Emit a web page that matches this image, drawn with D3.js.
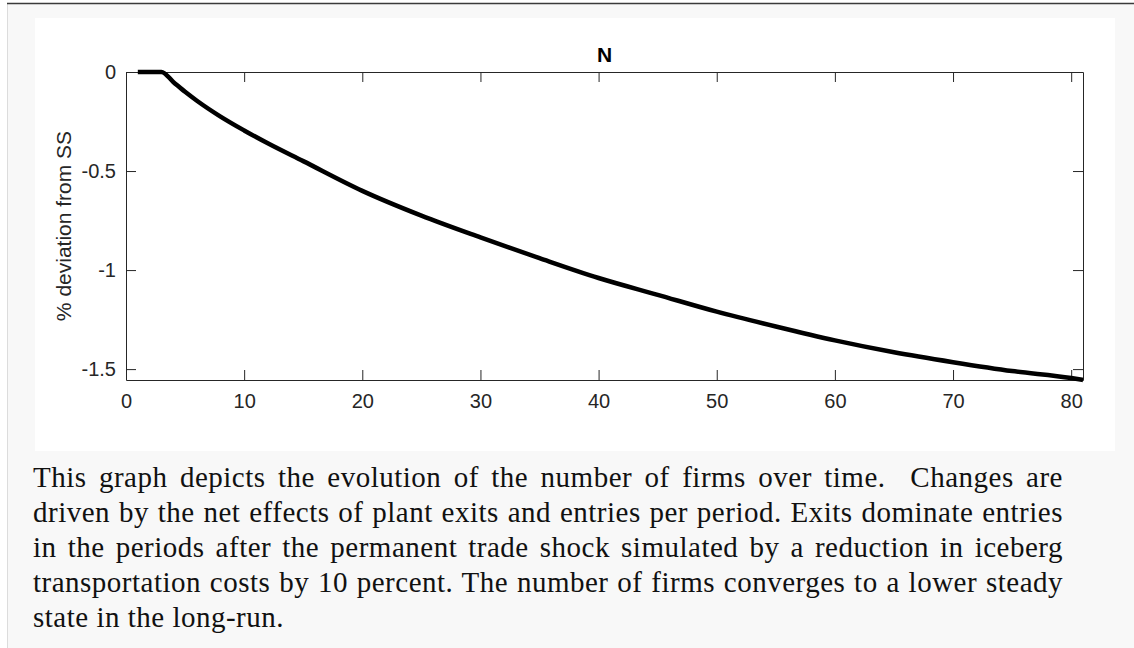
<!DOCTYPE html>
<html>
<head>
<meta charset="utf-8">
<script src="https://cdn.jsdelivr.net/npm/d3@7"></script>
<style>
  body { margin: 0; background: #fff; }
  svg { display: block; }
</style>
</head>
<body>
<div id="chart"></div>
<script>
(function(d3) {
    'use strict';

    // periods after the shock and % deviation of N from steady state
    var periods   = [1, 2, 3, 4, 5, 6, 8, 10, 12, 15, 20, 25, 30, 35, 40, 45, 50, 55, 60, 65, 70, 75, 80, 81];
    var deviation = [0, 0, 0, -0.05, -0.10, -0.145, -0.225, -0.295, -0.36, -0.45, -0.60, -0.725, -0.835, -0.94,
                     -1.04, -1.125, -1.21, -1.285, -1.355, -1.415, -1.465, -1.51, -1.545, -1.555];
    var xTicks = [0, 10, 20, 30, 40, 50, 60, 70, 80];
    var yTicks = [0, -0.5, -1, -1.5];
    var title = 'N';
    var yLabel = '% deviation from SS';
    var captionLines = [
        'This graph depicts the evolution of the number of firms over time.  Changes are',
        'driven by the net effects of plant exits and entries per period. Exits dominate entries',
        'in the periods after the permanent trade shock simulated by a reduction in iceberg',
        'transportation costs by 10 percent. The number of firms converges to a lower steady',
        'state in the long-run.'
    ];

    var settings = {
        width: 1134,
        height: 648,
        plot: { left: 126, right: 1083, top: 72, bottom: 380 },
        tick: 10,
        axisColor: '#262626',
        sans: '"Liberation Sans", Arial, Helvetica, sans-serif',
        serif: '"Liberation Serif", "Times New Roman", serif',
        caption: { left: 33, width: 1030, top: 487, step: 35 }
    };

    var svg = d3.select('#chart').append('svg')
        .attr('width', settings.width)
        .attr('height', settings.height);

    // page frame
    svg.append('rect')
        .attr('x', 7).attr('y', 3)
        .attr('width', settings.width - 7).attr('height', settings.height - 3)
        .attr('fill', '#f8f8f8');
    svg.append('line')
        .attr('x1', 7.5).attr('x2', 7.5).attr('y1', 3).attr('y2', settings.height)
        .attr('stroke', '#dcdcdc');
    svg.append('line')
        .attr('x1', 7).attr('x2', settings.width).attr('y1', 3.5).attr('y2', 3.5)
        .attr('stroke', '#3a3a3a').attr('stroke-width', 1.5);

    // white figure area
    svg.append('rect')
        .attr('x', 35).attr('y', 18)
        .attr('width', 1080).attr('height', 433)
        .attr('fill', '#fff');

    var p = settings.plot;

    var x = d3.scaleLinear()
        .domain([0, d3.max(periods)])
        .range([p.left, p.right]);

    var y = d3.scaleLinear()
        .domain([d3.min(deviation), 0])
        .range([p.bottom, p.top]);

    var fmt = function(d) { return String(d); };

    var gx = svg.append('g')
        .attr('transform', 'translate(0,' + p.bottom + ')')
        .call(d3.axisBottom(x).tickValues(xTicks).tickFormat(fmt)
            .tickSizeInner(-settings.tick).tickSizeOuter(0).tickPadding(14));

    var gxTop = svg.append('g')
        .attr('transform', 'translate(0,' + p.top + ')')
        .call(d3.axisTop(x).tickValues(xTicks).tickFormat('')
            .tickSizeInner(-settings.tick).tickSizeOuter(0));

    var gy = svg.append('g')
        .attr('transform', 'translate(' + p.left + ',0)')
        .call(d3.axisLeft(y).tickValues(yTicks).tickFormat(fmt)
            .tickSizeInner(-settings.tick).tickSizeOuter(0).tickPadding(10));

    var gyRight = svg.append('g')
        .attr('transform', 'translate(' + p.right + ',0)')
        .call(d3.axisRight(y).tickValues(yTicks).tickFormat('')
            .tickSizeInner(-settings.tick).tickSizeOuter(0));

    [gx, gxTop, gy, gyRight].forEach(function(g) {
        g.select('.domain').attr('stroke', settings.axisColor);
        g.selectAll('.tick line').attr('stroke', settings.axisColor);
        g.selectAll('.tick text')
            .attr('fill', settings.axisColor)
            .style('font-family', settings.sans)
            .style('font-size', '20px');
    });

    // the curve
    var line = d3.line()
        .x(function(d, i) { return x(periods[i]); })
        .y(function(d) { return y(d); })
        .curve(d3.curveMonotoneX);

    svg.append('path')
        .datum(deviation)
        .attr('d', line)
        .attr('fill', 'none')
        .attr('stroke', '#000')
        .attr('stroke-width', 4.5)
        .attr('stroke-linejoin', 'round');

    // title and axis label
    svg.append('text')
        .attr('x', (p.left + p.right) / 2)
        .attr('y', p.top - 10)
        .attr('text-anchor', 'middle')
        .style('font-family', settings.sans)
        .style('font-size', '21px')
        .style('font-weight', 'bold')
        .attr('fill', '#000')
        .text(title);

    svg.append('text')
        .attr('transform', 'translate(71,' + (p.top + p.bottom) / 2 + ') rotate(-90)')
        .attr('text-anchor', 'middle')
        .style('font-family', settings.sans)
        .style('font-size', '21px')
        .attr('fill', settings.axisColor)
        .text(yLabel);

    // caption: justify all but the last line by widening the word gaps
    var c = settings.caption;
    var captions = svg.append('g').selectAll('text')
        .data(captionLines)
        .enter()
        .append('text')
        .attr('x', c.left)
        .attr('y', function(d, i) { return c.top + i * c.step; })
        .style('font-family', settings.serif)
        .style('font-size', '29px')
        .style('letter-spacing', '0.5px')
        .style('white-space', 'pre')
        .attr('fill', '#111')
        .text(function(d) { return d; });

    captions.each(function(d, i) {
        if (i === captionLines.length - 1) {
            return;
        }
        var natural = this.getComputedTextLength();
        var gaps = (d.match(/ /g) || []).length;
        var extra = (c.width - natural) / gaps;
        if (extra >= 0) {
            d3.select(this).style('word-spacing', extra + 'px');
        } else {
            d3.select(this).attr('textLength', c.width).attr('lengthAdjust', 'spacingAndGlyphs');
        }
    });

})(window.d3);
</script>
</body>
</html>
